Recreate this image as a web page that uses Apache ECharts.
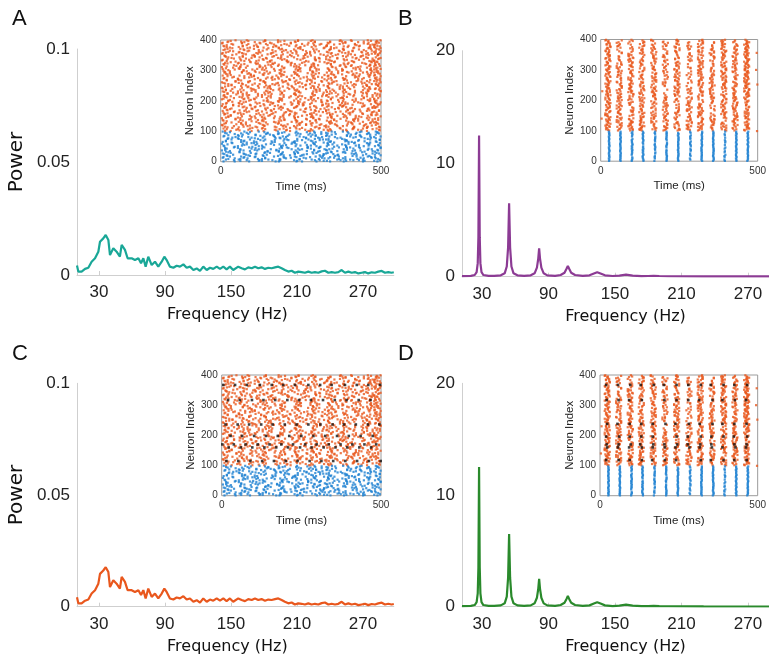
<!DOCTYPE html>
<html>
<head>
<meta charset="utf-8">
<script src="https://cdn.jsdelivr.net/npm/echarts@6/dist/echarts.min.js"></script>
<style>
  html, body { margin: 0; padding: 0; background: #fff; }
  #main { width: 769px; height: 661px; }
</style>
</head>
<body>
<div id="main"></div>
<script>
// ---- power spectra ----
var asyncFreq = [10,11.2,14.2,17.3,20.3,23.3,26.4,29.4,30.9,33.9,36.1,38.5,40,43,46,49,50.6,53.6,56,59.7,
  62.7,65.8,68.2,70.3,72.4,74.8,77.9,80.9,83.9,87,89.4,91.5,94.5,97.6,100.6,103.6,106.7,109.7,112.7,115.8,
  118.8,121.8,124.8,127.9,130.9,133.9,137,140,143,146,149,152,
  153.6,156.6,159.7,162.7,165.7,168.8,171.8,174.8,177.8,180.9,183.9,186.9,190,193,196,199,202.1,205.1,208.1,211.2,
  214.2,217.2,220.3,223.3,226.3,229.4,232.4,235.4,238.5,241.5,244.5,247.6,250.6,253.6,256.7,259.7,262.7,265.8,268.8,271.8,
  274.8,277.9,280.9,283.9,287,290,293,296,298];
var asyncPower = [0.0042,0.0015,0.0015,0.0027,0.0032,0.0059,0.0074,0.0103,0.0147,0.0162,0.0177,0.0155,0.0088,0.0118,0.0103,0.0081,0.0133,0.0111,0.0074,0.0074,
  0.0066,0.0074,0.0052,0.0074,0.0037,0.0081,0.0044,0.0059,0.0037,0.0059,0.0081,0.0066,0.0037,0.0032,0.0041,0.0037,0.0047,0.0032,0.0037,0.0022,
  0.0029,0.0018,0.0037,0.0022,0.0032,0.0027,0.0037,0.0027,0.0037,0.0025,0.0037,0.0022,
  0.0030,0.0037,0.0030,0.0025,0.0034,0.0030,0.0037,0.0030,0.0034,0.0027,0.0032,0.0030,0.0034,0.0037,0.0030,0.0022,0.0015,0.0019,0.0010,0.0015,
  0.0013,0.0010,0.0015,0.0010,0.0013,0.0010,0.0016,0.0019,0.0010,0.0013,0.0010,0.0013,0.0022,0.0010,0.0015,0.0010,0.0013,0.0007,0.0010,0.0013,
  0.0007,0.0012,0.0010,0.0015,0.0018,0.0010,0.0013,0.0010,0.0012];

var syncFreq = [12,20,23.5,25.2,26.2,26.8,27.4,28,28.6,29.6,31.3,36,41,47,50.5,52.4,53.6,54.5,55.4,56.6,
  58.5,62,68,74,77.5,79.6,80.8,81.6,82.4,83.6,85.7,89,96,101,104.5,106.3,107.5,108.7,110.5,114,
  121,127,131,134,137,141,148,154,160,166,174,180,185,190,198,230,289];
var syncPower = [0.05,0.07,0.15,0.4,1.2,3.5,12.5,3.5,1.2,0.4,0.15,0.08,0.07,0.12,0.3,0.9,2.6,6.5,2.6,0.9,
  0.3,0.12,0.08,0.12,0.3,0.8,1.6,2.5,1.6,0.8,0.3,0.12,0.08,0.15,0.35,0.7,0.95,0.7,0.35,0.15,
  0.07,0.12,0.28,0.4,0.28,0.12,0.06,0.1,0.18,0.1,0.05,0.06,0.08,0.06,0.04,0.03,0.02];

var freqTicks = [30, 90, 150, 210, 270];

// ---- async rasters: one string per group of 4 neurons, one char per 25 ms bin
// digit = position inside the bin (2.5 ms steps), '.' = no spike.
// the "2" lists sit 2 neurons above the first lists.
var asyncBlue = [
  "37.5..82.419.6.3.7.5", ".6.28.4..1.73.9.52.8", "9.4.61.3.8..2.75.0.6", "2.8..5.97.3.6.1..48.", ".15.3.6..2.84.7.9.3.",
  "7..4.2.86.1.3.5..7.9", "4.9.3..5.27.8.0.6.1.", ".2.7.41..6.9.3.58..4", "6.3..8.2.5..17.4.9.2", "1.8.5.9..3.6.2..74.6",
  "..4.7.2.8.1.95.3..8.", "5.1.3..64.8.2..7.3.9", ".7.9.2.5..8.4.16.2..", "3.6..1.7.9.2..5.8.47", "8..2.6.3.4.7.9.1..5.",
  ".4.81..9.2.5.3..6.28", "2.5.4.7..1.8.6.93..4", "6.9..3.8.5.2.4.7.1..", ".3.6.5..2.9.71.4..68", "9.1.2.84..6.3.5..9.3",
  ".8.4..7.1.3.6.2.85.1", "4.2.9.6.3..8.1.7.4..", "..7.3.1.5.94.8..2.63", "7.5..8.2.6.1.3.9..47", ".1.6.4.9..7.5.28.3.5"
];
var asyncBlue2 = [
  "..4.71.3.5..82.6.9.1", "6.2..9.4.8.3..5.17..", ".7.3.5..1.6.94.2.8.3", "3.9.2..8.4.1.6.5..72", "8..6.3.1.9..7.2.4.5.",
  ".5.1.7.4..3.8.6.9..2", "2.8.4..6.2.5.1..3.97", "9.3..5.7.1.4.8.2.6..", ".1.6.8.2..7.3.5.4.9.", "5.4.2.9..8.6.1.7..35",
  "7..8.1.3.6.2.9..5.4.", ".6.5.4..2.8.3.7.1..9", "4.1.7..5.3.9.2.6.8.2", "..9.3.6.1.7..4.5.2.6", "1.7.5.2.8..6.3.9..4.",
  ".3.2..4.9.5.8.1.7.6.", "6.8.1.3..2.4.7.5.9.3", "..5.9.7.4.1.3..6.2.8", "8.2.6..9.5.7.4.1..3.", ".4.8.2.3..6.1.9.5.7.",
  "3.6..4.7.8.2.5..1.69", "9.1.3.5..4.8.2.7.3..", ".7.4.6.1.9..5.3.8.2.", "5..2.8.6.3.7.1..9.45", "2.9.7..1.4.6.8.2.5.3"
];
var asyncOrange = [
  "52.8.3..6.91.4.7..2.", ".9.4..7.2.5.83.6.1.7", "3..6.1.8.4..2.9.57.4", "8.2.5.9..3.7.1..6.28", ".6.3.4.7.1..9.52.8..",
  "1.7..2.5.86.3.4..9.3", "4.5.9..1.7.2.6.8.3.6", ".3.1.68..4.9.5..2.71", "7..8.3.2.5.1.74.6.9.", "2.4.6..9.3.8..1.5.46",
  ".8.7.5.3..6.2.9.71.2", "6.1..4.8.2.5.3..8.5.", "9.6.2.7..1.4.8.6.2.9", ".2..9.1.5.73.6.4..83", "5.8.4.3.6..1.9.2.7..",
  "3.4..7.9.2.6.5..1.84", ".7.5.1..8.3.2.96.4.1", "8.3.6.2.4..7.1.8..57", ".1.9..6.3.5.4.2.7.3.", "4..2.8.7.1.9..6.3.92",
  "6.9.3..5.4.8.2.1.6.5", ".5.7.4.1..2.6.83.9..", "2.6..3.9.7.1.4.5..78", "7.2.8.5..6.3.9.1.4.3", ".4.1.9.2.8..5.7.6..2",
  "9..5.3.6.1.4.2..8.64", "1.8.2..4.9.6.7.3.5.1", ".6.4.7.3..5.1.92.8.6", "5.3..1.8.6.2.4.7..9.", "3.7.6.2..8.5.1.3.6.4",
  ".9.2.5.4.3..7.6.1..8", "8.1..9.6.2.4.8.3.7.2", "4.5.3.1..7.9.2.6.5..", ".2.8.6.9.4..3.1.7.49", "6.4.1..2.5.8.9.4..37",
  "2..7.8.3.1.6.5.2.9.3", ".7.3.4..9.2.1.8.6.5.", "9.5.6.1.8..4.3.7..26", ".3.9..7.4.6.2.5.8.14", "5.6.2.9.3.1..8.4.6.7.",
  "1..4.5.7.8.3.9..2.59", ".8.6.3..1.7.5.4.9.21", "7.2.9.4.6..1.8.3..65", "3.1..6.2.9.7.4.5.1.8.", ".4.5.8.1..3.6.2.7..43",
  "8.9.1..5.7.4.3.6.2.9", ".2.7.3.8.5..9.1.4.62", "6..3.9.4.2.8.7..5.38", "4.6.8.1..3.5.2.9.7.1.", ".1.2.7.5.9.4..6.3.86",
  "9.8..4.3.6.1.5.2..74", "2.3.5.6..8.9.4.1.3.9.", ".5.1.2.9.4.7..3.8.25", "7.4.9..6.1.3.8.5.4.1", ".6..8.2.7.5.1.9.3.63",
  "3.9.4.5..2.6.7.8..17", "5.2.3.7.8.1..4.9.6.2.", ".8.6..1.4.9.3.2.5.74", "1.5.7.3.2..8.6.4..91", "8.4..2.9.5.7.1.3.8.6.",
  ".3.8.6.1..4.2.5.9.39", "6.7.2.4.3.8..1.6.4..2", "4..9.1.5.6.2.3.8.7.5.", ".9.1.8.7..5.4.6.2.16", "2.6.4.3.9.7..8.5..38",
  "9.3.7..6.4.1.2.9.5.1.", ".1.5.2.8.3.6..7.4.83", "5.8..7.4.1.9.6.3.2.7", ".4.3.9.2.6..8.1.5.49", "7.2.6.5..9.3.7.8..61",
  "3.7.1.8.5.4..2.9.3.5.", ".5..4.6.2.8.3.1.7.92", "1.6.9.3.7..5.4.2.8.4.", "8.9.2..1.3.7.6.5.1.36", ".2.4.5.9.6.2..8.3.74"
];
var asyncOrange2 = [
  "..3.6.9.1..4.7.2.5.8", "7.1..5.3.8.2.6..4.9.", ".4.9.2..6.1.3.8.5.2.", "5.8.3.7.1..9.4..6.37", "2..6.4.9.5.3.1.7..8.",
  ".9.1.8..3.6.5.2.4.1.", "6.5.7..2.9.4.8..3.64", "..2.4.6.8.1..5.9.7.3", "3.7..1.5.4.8.2.6.1..", ".8.5.2.9..7.3.1.5.9.",
  "1.4.3.6..2.5.8.7..26", "9..8.1.4.6.2.7.3.5..", ".2.6.9.7..1.4.5.8.3.", "4.5..3.8.2.9.6..1.75", "8.1.7.5..4.3.2.9.6..",
  ".6.2..8.1.5.7.3.4.9.", "2.9.4.3.6..8.1..5.27", "7..1.6.5.9.2.4.8.3..", ".3.8.5.2..6.9.7.1.4.", "5.7.2..4.3.1.8.6..93",
  "1.2.9.7..5.6.4.2.8.1", ".5.6..1.8.3.7.9.4..6", "6.3.5.4.9.2..1.8.7.5", "..8.3.2.7.4.6..5.1.9", "9.4..7.1.6.8.3.2..52",
  ".1.7.8.3..9.5.6.4.3.", "3.9.1..6.4.2.7..8.61", "7.6.4.2.5..3.9.1.8..", ".2.3.9..7.1.6.4.5.28", "4..5.1.8.3.7.2..6.9.",
  "8.7.6.3..1.4.5.9..25", ".5.2.4.6.9..8.3.7.1.", "2.1..8.4.7.5.6.2..39", "6.8.3.5..2.9.1.4.7..", ".4.9..2.5.6.3.8.1.62",
  "1.6.7.1.3..2.4.9..58", "5..4.9.7.8.6.3.2.7..", ".3.1.6.2..5.8.9.4.26", "9.7.8.4..3.1.5..6.83", "3.2..5.1.6.7.4.8.9..",
  ".8.4.3.9.2..6.1..5.4", "7.5.9..6.4.3.2.7.1.8", "..1.2.7.5.8.9..4.6.3", "4.9.6.3..1.5.7.2.8.2", ".6.8..4.2.7.1.3.9.5.",
  "2.3.1.9.8..6.4..7.41", "8..7.2.6.5.3.9.1.3..", ".1.5.4.3..8.2.6.9.76", "5.6.3..9.1.4.8.7..24", "3.8.2.7..6.9.5.1.4..",
  ".7.9.1.5.3..2.4.8.61", "6.2..6.8.9.1.3..5.73", "1.4.8.3..7.2.9.6.1..", ".9.3.5.1.4.6..8.2.58", "4.5..9.2.8.3.7.4..62",
  "8.1.6.4.7..5.2.3.9..", ".2.7.8..3.4.9.1.6.85", "7.9.4.1.2.6..8..3.51", "2..5.3.6.9.8.4.7.2..", ".6.1.7.4..2.3.5.8.97",
  "9.3.8..5.1.7.6..4.13", "5.7.2.6.8.3..9.2.5..", ".4..1.9.6.5.8.3.7.46", "1.8.6.2..4.1.7.9..82", "6.2.9.5.3..7.4.1.6.3",
  ".5.3..8.7.6.2.8.4.19", "3.9.7.4.1.2..5.3.8..", "8.4.1..6.9.5.7.2..74", ".1.6.3.2.8..9.4.6.52", "4.7.5.9..3.8.1.3.2.8",
  "7..2.8.5.4.6.2..9.61", ".3.4.6.9..1.5.8.7.3.", "2.6.8.1.7.9..3.5..47", "9.5..3.4.2.7.6.1.8.5", ".8.2.5.1.6.4..9.2.39"
];
// highlighted (black) neurons in panel C: neuron index and spike times (ms)
var asyncBlackIdx = [367, 317, 236, 198, 170, 160, 115];
var asyncBlackTimes = [
  [5,42,79,120,157,193,230,272,309,345,387,424,460,497],
  [20,57,95,131,168,206,243,280,318,355,392,430,467],
  [12,50,86,124,160,198,235,272,310,348,384,421,459,495],
  [28,64,102,139,176,212,250,288,325,362,399,436,474],
  [2,38,75,113,150,187,224,262,298,336,373,410,448,485],
  [22,60,96,134,171,208,246,282,320,357,394,432,469],
  [15,52,90,127,164,201,238,276,313,350,388,425,462,499]
];

// ---- sync rasters: population bursts (ms) and, per group of 4 neurons,
// one char per burst: digit = jitter inside the burst, '.' = silent
var burstTimes = [27, 63, 100, 135, 173, 210, 247, 286, 322, 359, 396, 432, 469];
var syncBlue = [
  "4536245.63452", "5346.54436254", "3564453246.35", "6453354.45364", "45.3465543245",
  "5436.45354635", "3645546345.43", "4553634.54365", "6345.45536434", "5463543645.54",
  "45364.5436354", "3554645.34645", "6435534654.36", "546.354563454", "4365465345.63",
  "5543.64354536", "36455.4653645", "4536456.35463", "5364535463.45", "46.3546453546",
  "3545645364.53", "6354.53645435", "4563546.54364", "5436354565.43", "356454.364546"
];
var syncOrange = [
  "7345826.16942", "258136937.275", "4.63982.45918", "827564131.665", "19365.8274947",
  "37.2581496136", "6953.7492825.", "51843.6975.35", "546219.17483.", "2834.63789.49",
  "769413.7.2963", "92.754531.784", "4.3386.619.52", "179.524.67638", "15.6894.33782",
  "7381.4682.935", "9485.7729.46.", "3695.1857.437", "51.48.862.724", "847.37.91.168",
  "89.265.54941.", "2736.7413.484", "65.394.43.72.", "6758.2.6.5993", "42.51.73.6336",
  "8916.63.8.45.", "74328659.4973", "163574.928651", "538.4.9.15637", "96.7752.84438",
  "58926.17.2945", "42615.7382.46", "37544.8692.61", "81593.6752.48", "45387.74.1339",
  "69475.28.3714", "29638.1.65744", "5742.46.29653", "4633.19.25487", "7856.5.391664",
  "61.4957.34925", "586.7.28348.5", "3.17648.56872", "48553.7.62361", "92.48916.5947",
  "1773.49.24863", "64.67.28753.2", "685.93.417566", "8351.84.6.226", "4957.25.38157",
  "24.9661.53872", "53.23.8744952", "768.54.39.314", "7153.64.27752", "3966.14.8.257",
  "52.47.9.56683", "4882.55.3.146", "9.5763.696.27", "7516.8.43.358", "14359.27.8.66",
  "6.8.447.19264", "842.53.9.7713", "8.69.2.663475", "5.1538.5.4496", "69.71.4.78235",
  "25.6.83.18864", "7..43.9.25576", "3.8672.6.5143", "47.15.3396.48", "92.6.1183.357",
  "85.947.4.5286", "36.2.45.1.774", "61.7.9.3882.5", "5.38.26.9.446", "19.61.4.7.35."
];
var syncOrange2 = [
  "5.82.4963.7.1", ".6347.81.5.29", "28.5.6.4731.6", "7.19.3.85.4.6", "4652.8.1.7.93",
  "9.3.6.7.2.5.8", ".4781.5.6.3.2", "3.5.92.4.8.16", "81.4.6.7.3.9.", "6.2.5.3.98.47",
  ".9.36.1.7.5.4", "52.8.4.6.3.97", "1.7.2.9.4.68.", "47.6.8.53.1.5", ".3.91.2.7.6.8",
  "8.6.4.7.5.3.2", "2.5.8..1.94.6", ".7.3.6.2.8.5.", "6.9.1.4.73.2.", "35.7.28.4.6.9",
  ".1.6.9.5.2.74", "7.4.3.8.6.1.5", "9.2.57.3.4.8.", "4.8.6.1.9.2.6", ".5.2.3.7.6.48",
  "1.6.8.4.2.9.3", "63.9.5.1.7.2.", ".8.1.7.4.3.65", "5.3.4.2.8.5.9", "2.9.7.6.3.1.4",
  ".4.5.3.9.7.28", "8.1.2.5.6.4.7", "3.7.9.1.5.8.2", ".6.4.8.2.6.39", "7.2.6.3.4.9.1",
  "4.5.1.9.7.2.6", ".9.8.4.1.5.73", "6.3.2.7.8.4.5", "1.8.5.6.3.7.9", ".2.7.1.9.6.42",
  "9.6.3.5.2.8.1", "5.4.9.2.7.3.6", ".7.1.8.4.2.58", "3.1.6.4.9.5.7", "8.9.2.3.6.1.4",
  ".3.5.7.1.8.96", "2.7.8.6.5.4.3", "6.4.3.9.2.7.8", ".5.6.2.8.3.15", "4.8.7.5.1.9.2",
  "7.2.4.1.6.8.3", ".1.9.3.7.4.67", "9.6.5.8.2.5.9", "1.3.2.6.4.1.8", ".8.4.9.3.7.24",
  "5.7.1.3.8.6.5", "3.2.8.7.5.9.1", ".6.3.4.9.2.76", "8.4.6.2.1.3.9", "2.9.5.8.7.5.4",
  ".5.7.1.3.8.23", "6.1.4.6.9.4.7", "4.3.8.5.2.6.1", ".9.2.7.6.1.58", "7.6.9.4.3.7.2",
  "1.8.3.2.8.9.6", ".2.6.5.4.3.85", "5.4.1.9.7.2.3", "9.7.5.3.1.6.4", ".3.8.6.2.5.97",
  "3.5.2.8.6.4.1", "8.1.7.4.9.3.6", ".4.9.1.5.8.29", "6.8.4.7.3.1.5", "2.6.1.5.8.7.3"
];
// stray spikes outside bursts [time ms, neuron]
var syncStray = [[497, 356], [499, 252], [498, 99], [495, 300], [3, 140], [5, 230]];
// highlighted (black) neurons in panel D
var syncBlackIdx = [367, 317, 238, 196, 170, 160, 118];
var syncBlack = ["3454635463546", "4536.45436354", "5345463546345", "36454.5364536", "4563546354.45", "5436453645364", "3546354.63545"];

var colOrange = '#e9571d', colBlue = '#1b7fd1';

function zip(xs, ys) {
  return xs.map(function (x, i) { return [x, ys[i]]; });
}
function asyncPoints(rows, baseIdx) {
  var pts = [];
  rows.forEach(function (s, r) {
    for (var i = 0; i < 20 && i < s.length; i++) {
      var c = s.charAt(i);
      if (c === '.') continue;
      pts.push([i * 25 + (+c + 0.5) * 2.5, baseIdx + r * 4 + 1]);
    }
  });
  return pts;
}
function syncPoints(rows, baseIdx, lead, spread) {
  var pts = [];
  rows.forEach(function (s, r) {
    for (var k = 0; k < burstTimes.length && k < s.length; k++) {
      var c = s.charAt(k);
      if (c === '.') continue;
      pts.push([burstTimes[k] + lead + (+c - 4.5) * spread, baseIdx + r * 4 + 1]);
    }
  });
  return pts;
}

var asyncBluePts = asyncPoints(asyncBlue, 0).concat(asyncPoints(asyncBlue2, 2));
var asyncOrangePts = asyncPoints(asyncOrange, 100).concat(asyncPoints(asyncOrange2, 102));
var asyncBlackPts = [];
asyncBlackIdx.forEach(function (n, j) {
  asyncBlackTimes[j].forEach(function (t) { asyncBlackPts.push([t, n]); });
});
var syncBluePts = syncPoints(syncBlue, 0, 0, 0.8);
var syncOrangePts = syncPoints(syncOrange, 100, -5, 2.0)
  .concat(syncPoints(syncOrange2, 102, -5, 2.0)).concat(syncStray);
var syncBlackPts = [];
syncBlackIdx.forEach(function (n, j) {
  var s = syncBlack[j];
  for (var k = 0; k < burstTimes.length; k++) {
    if (s.charAt(k) === '.') continue;
    syncBlackPts.push([burstTimes[k] - 5 + (+s.charAt(k) - 4.5) * 1.8, n]);
  }
});

// ---- layout ----
var mainGrids = [
  { left: 77, top: 49, width: 316.8, height: 226 },
  { left: 462, top: 50.7, width: 307, height: 226 },
  { left: 77, top: 383.3, width: 316.8, height: 223.4 },
  { left: 462, top: 383.3, width: 307, height: 223.4 }
];
var insetGrids = [
  { left: 220.7, top: 40, width: 160.3, height: 121.7 },
  { left: 600.7, top: 39.5, width: 160.3, height: 121.7 },
  { left: 221.7, top: 375, width: 159.3, height: 120.7 },
  { left: 600, top: 375, width: 160.7, height: 120.7 }
];
var xRange = [[10, 298], [12, 289], [10, 298], [12, 289]];
var yMax = [0.1, 20, 0.1, 20];
var lineColors = ['#19a797', '#8c3b94', '#e9571d', '#2a8a2c'];
var lineData = [zip(asyncFreq, asyncPower), zip(syncFreq, syncPower), zip(asyncFreq, asyncPower), zip(syncFreq, syncPower)];

var grids = [], xAxes = [], yAxes = [], series = [];
var axisGray = '#cfcfcf', tickFont = 'Liberation Sans';

mainGrids.forEach(function (g, i) {
  grids.push(Object.assign({ containLabel: false }, g));
  xAxes.push({
    type: 'value', gridIndex: i, min: xRange[i][0], max: xRange[i][1],
    axisLine: { show: true, lineStyle: { color: axisGray, width: 1 } },
    axisTick: { show: true, inside: true, length: 4, customValues: freqTicks, lineStyle: { color: axisGray } },
    axisLabel: { customValues: freqTicks, margin: 9, fontSize: 17, color: '#222', fontFamily: tickFont },
    splitLine: { show: false },
    name: 'Frequency (Hz)', nameLocation: 'middle', nameGap: 32,
    nameTextStyle: { fontSize: 16, fontFamily: 'DejaVu Sans', color: '#111', padding: i % 2 ? [0, 0, 0, 20] : [0, 16, 0, 0] }
  });
  yAxes.push({
    type: 'value', gridIndex: i, min: 0, max: yMax[i], interval: yMax[i] / 2,
    axisLine: { show: true, lineStyle: { color: axisGray, width: 1 } },
    axisTick: { show: false },
    axisLabel: { margin: 7, fontSize: 17, color: '#222', fontFamily: tickFont },
    splitLine: { show: false },
    name: i % 2 ? '' : 'Power', nameLocation: 'middle', nameGap: 50, nameRotate: 90,
    nameTextStyle: { fontSize: 20, fontFamily: 'DejaVu Sans', color: '#111' }
  });
  series.push({
    type: 'line', xAxisIndex: i, yAxisIndex: i, data: lineData[i],
    showSymbol: false, symbol: 'none', smooth: false, silent: true,
    lineStyle: { color: lineColors[i], width: 2.2 }
  });
});

insetGrids.forEach(function (g, j) {
  var i = j + 4;
  grids.push(Object.assign({ show: true, borderColor: '#9c9c9c', borderWidth: 1, backgroundColor: '#fff' }, g));
  xAxes.push({
    type: 'value', gridIndex: i, min: 0, max: 500,
    axisLine: { show: false }, axisTick: { show: false }, splitLine: { show: false },
    axisLabel: { customValues: [0, 500], margin: 5, fontSize: 10, color: '#333', fontFamily: tickFont },
    name: 'Time (ms)', nameLocation: 'middle', nameGap: 19,
    nameTextStyle: { fontSize: 11.5, fontFamily: tickFont, color: '#222' }
  });
  yAxes.push({
    type: 'value', gridIndex: i, min: 0, max: 400, interval: 100,
    axisLine: { show: false }, axisTick: { show: false }, splitLine: { show: false },
    axisLabel: { margin: 4, fontSize: 10, color: '#333', fontFamily: tickFont },
    name: 'Neuron Index', nameLocation: 'middle', nameGap: 22, nameRotate: 90,
    nameTextStyle: { fontSize: 11.5, fontFamily: tickFont, color: '#222' }
  });
  var sync = j % 2 === 1;
  var dot = { type: 'scatter', xAxisIndex: i, yAxisIndex: i, symbol: 'rect', symbolSize: 2.2, silent: true, animation: false };
  series.push(Object.assign({}, dot, { data: sync ? syncOrangePts : asyncOrangePts, itemStyle: { color: colOrange } }));
  series.push(Object.assign({}, dot, { data: sync ? syncBluePts : asyncBluePts, itemStyle: { color: colBlue } }));
  if (j >= 2) {
    series.push(Object.assign({}, dot, { data: sync ? syncBlackPts : asyncBlackPts, symbolSize: 2.6, itemStyle: { color: '#111' } }));
  }
});

var letters = [['A', 12, 8], ['B', 398, 8], ['C', 12, 343], ['D', 398, 343]];

var option = {
  backgroundColor: '#fff',
  animation: false,
  grid: grids,
  xAxis: xAxes,
  yAxis: yAxes,
  series: series,
  graphic: letters.map(function (l) {
    return { type: 'text', x: l[1], y: l[2], style: { text: l[0], fontSize: 22, fontFamily: 'Liberation Sans', fill: '#111', verticalAlign: 'top' } };
  })
};

var myChart = echarts.init(document.getElementById('main'));
myChart.setOption(option);
</script>
</body>
</html>
